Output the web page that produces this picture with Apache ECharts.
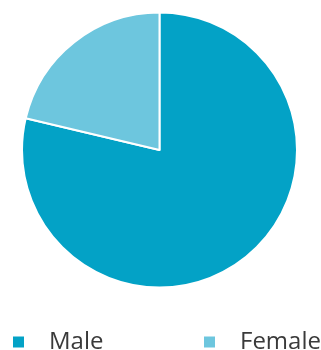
<!DOCTYPE html>
<html>
<head>
<meta charset="utf-8">
<script src="https://cdn.jsdelivr.net/npm/echarts@6/dist/echarts.min.js"></script>
<style>html,body{margin:0;padding:0;background:#fff}#c{width:321px;height:350px}</style>
</head>
<body>
<div id="c"></div>
<script>
var categories = ['Male', 'Female'];
var values = [78.7, 21.3];
var colors = ['#03A2C6', '#6DC6DE'];

var chart = echarts.init(document.getElementById('c'), null, {renderer: 'canvas'});
var data = categories.map(function (c, i) {
  return {name: c, value: values[i], itemStyle: {color: colors[i]}};
});
var legendText = {
  fontFamily: '"Open Sans", sans-serif',
  fontSize: 24,
  color: '#3a3a3a',
  padding: [0, 0, 5, 19]
};
chart.setOption({
  animation: false,
  legend: [
    {data: ['Male'], left: 11, top: 330, icon: 'rect', itemWidth: 13, itemHeight: 13, textStyle: legendText, padding: 0},
    {data: ['Female'], left: 202, top: 330, icon: 'rect', itemWidth: 13, itemHeight: 13, textStyle: legendText, padding: 0}
  ],
  series: [{
    type: 'pie',
    center: [159.5, 150],
    radius: 137.5,
    startAngle: 90,
    clockwise: true,
    label: {show: false},
    labelLine: {show: false},
    emphasis: {disabled: true},
    itemStyle: {borderColor: '#fff', borderWidth: 2},
    data: data
  }]
});
</script>
</body>
</html>
